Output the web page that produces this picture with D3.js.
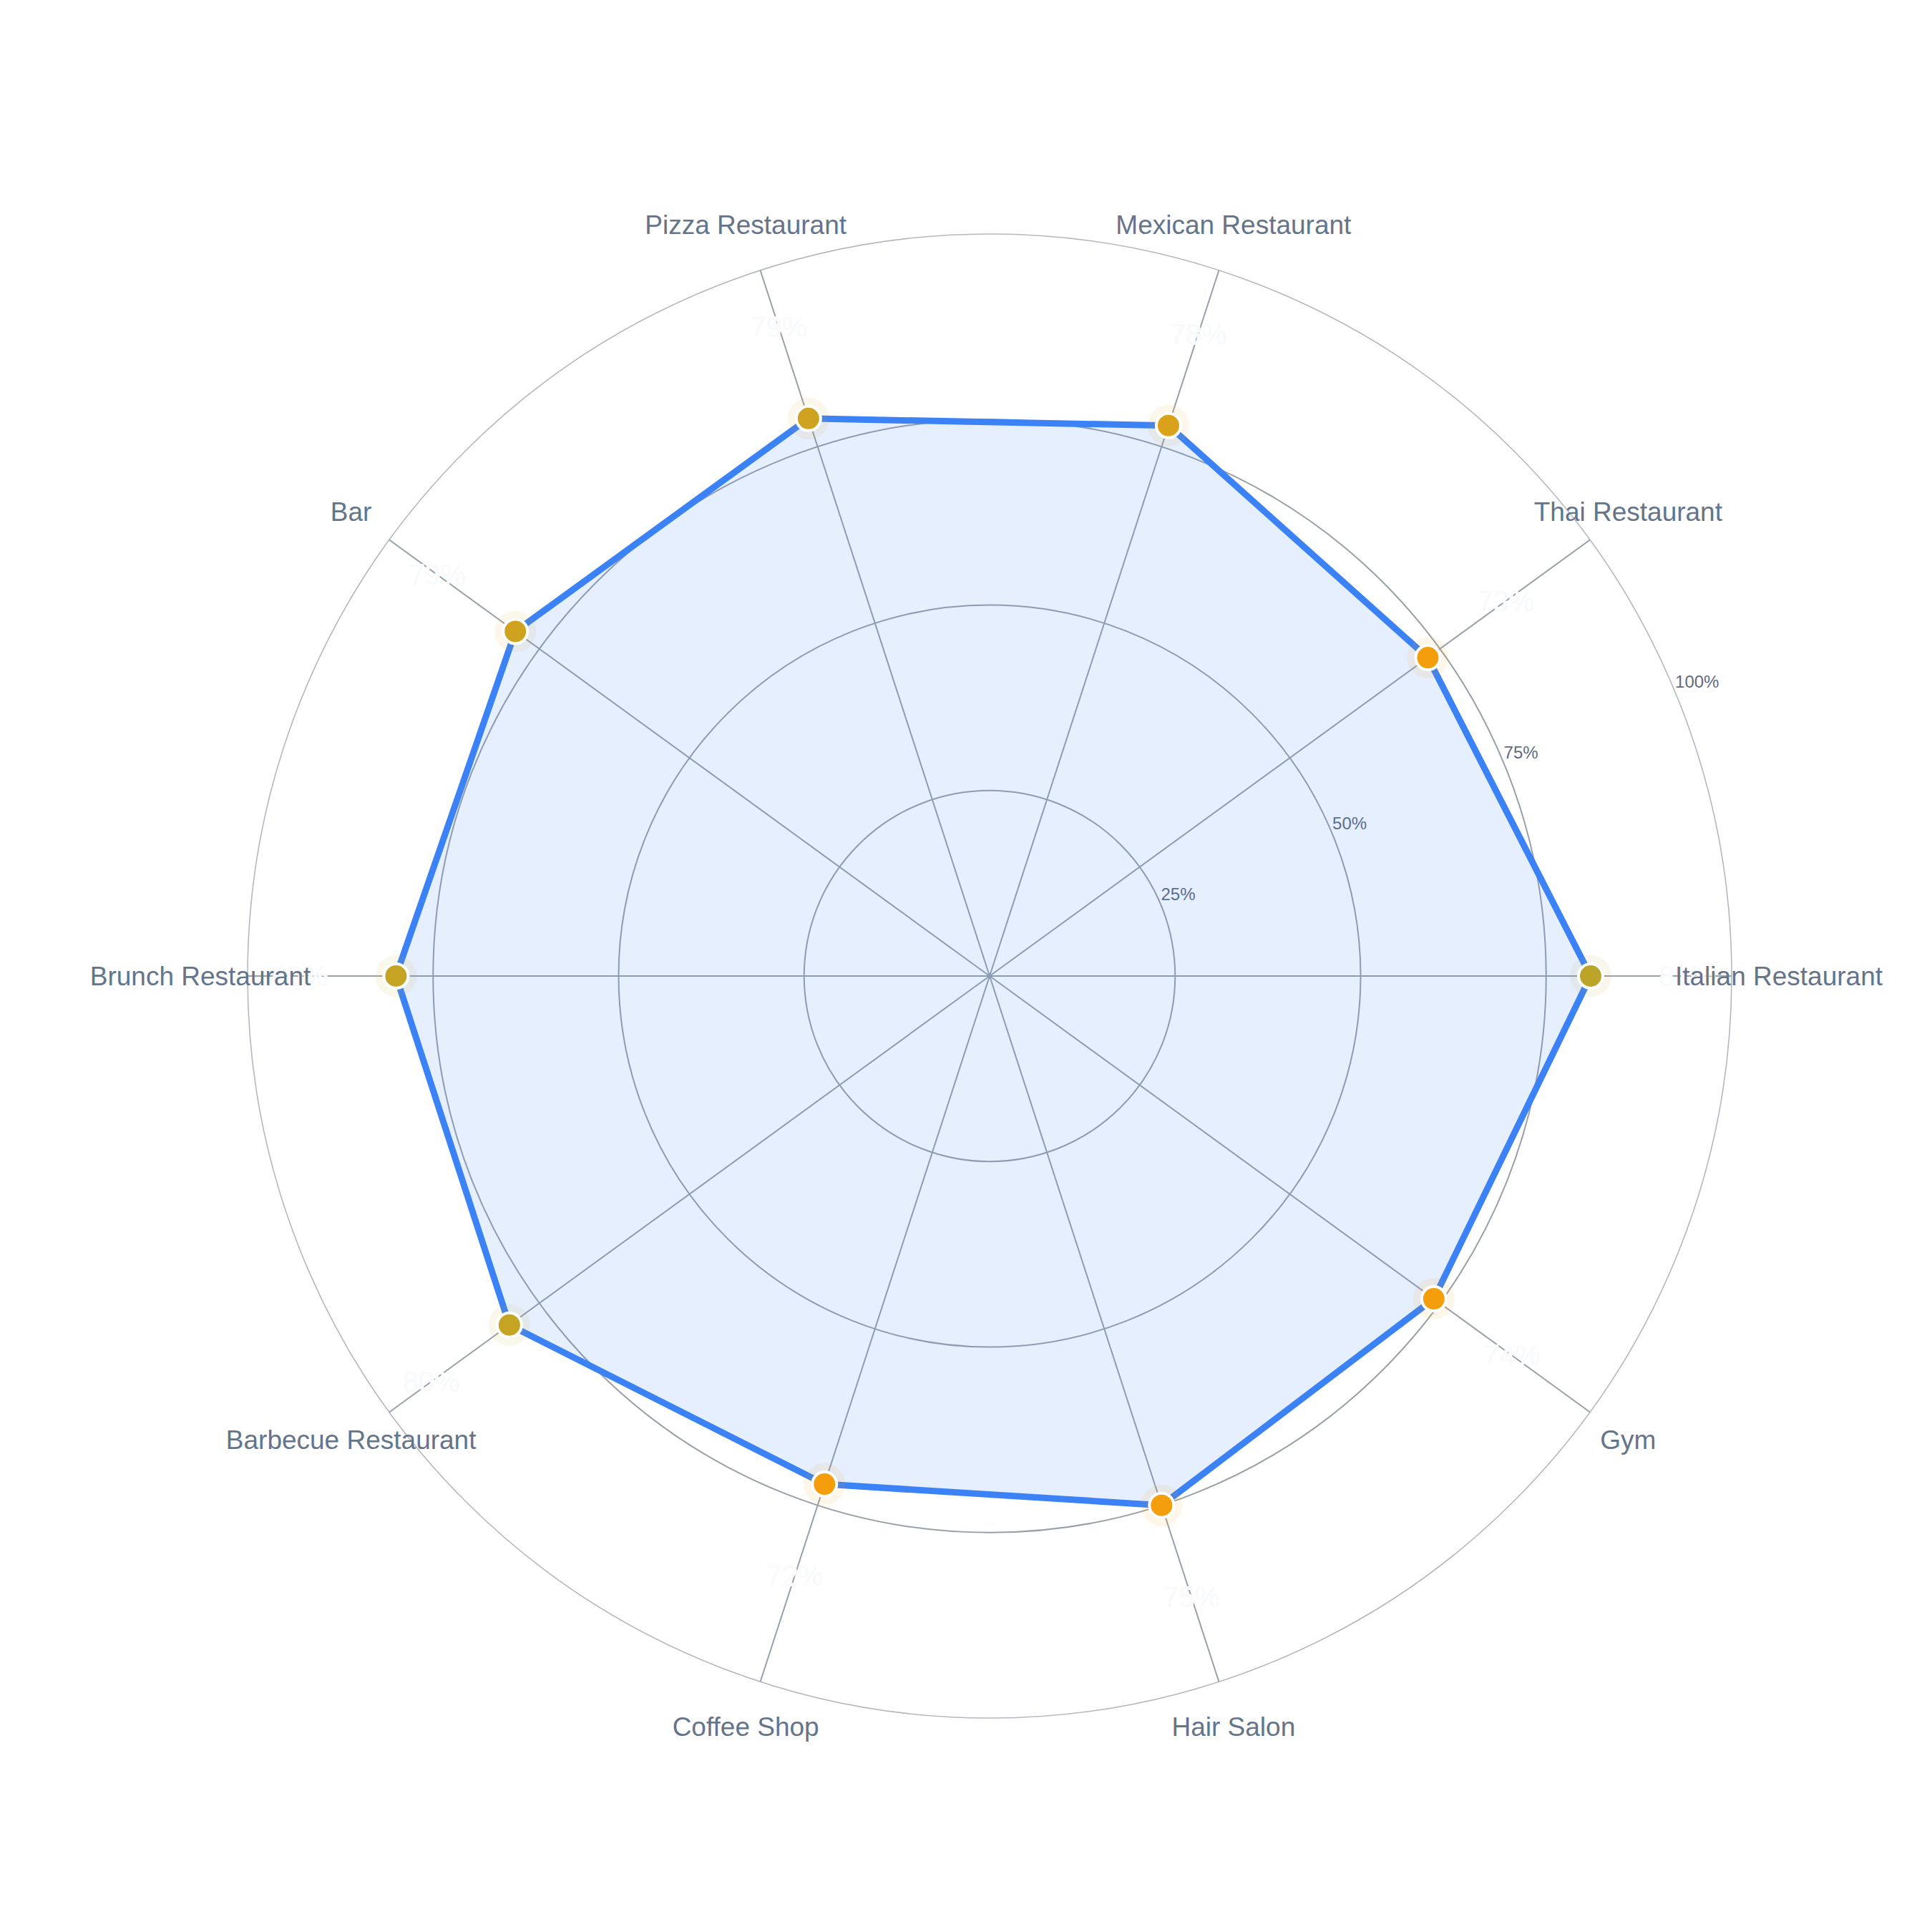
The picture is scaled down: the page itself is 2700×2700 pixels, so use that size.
<!DOCTYPE html>
<html>
<head>
<meta charset="utf-8">
<script src="https://cdn.jsdelivr.net/npm/d3@7"></script>
<style>
  html, body { margin: 0; padding: 0; background: #ffffff; }
  svg { display: block; }
</style>
</head>
<body>
<svg id="chart" width="2700" height="2700"></svg>
<script>
// ---- Data ----
const categories = ["Italian Restaurant", "Thai Restaurant", "Mexican Restaurant", "Pizza Restaurant", "Bar",
                    "Brunch Restaurant", "Barbecue Restaurant", "Coffee Shop", "Hair Salon", "Gym"];
const values = [81, 73, 78, 79, 79, 80, 80, 72, 75, 74];
const radialTicks = [25, 50, 75, 100];
const radialTickLabels = ["25%", "50%", "75%", "100%"];

// ---- Layout ----
const W = 2700, H = 2700;
const cx = 1383, cy = 1364, R = 1037;
const svg = d3.select("#chart");
const font = "'Liberation Sans', Arial, Helvetica, sans-serif";

const r = d3.scaleLinear().domain([0, 100]).range([0, R]);
// counter-clockwise, starting at 0 degrees (east)
const angle = d3.scaleLinear().domain([0, categories.length]).range([0, 2 * Math.PI]);
const px = (i, v) => cx + r(v) * Math.cos(angle(i));
const py = (i, v) => cy - r(v) * Math.sin(angle(i));

const color = d3.scaleLinear().domain([75, 78, 81])
  .range(["#f59e0b", "#d9a21a", "#bba529"]).clamp(true);

const g = svg.append("g");

// grid circles
radialTicks.forEach((t, k) => {
  g.append("circle")
    .attr("cx", cx).attr("cy", cy).attr("r", r(t))
    .attr("fill", "none")
    .attr("stroke", t === 100 ? "#b4b8be" : "#9aa0a8")
    .attr("stroke-width", t === 100 ? 1.6 : 2);
});

// spokes
categories.forEach((c, i) => {
  g.append("line")
    .attr("x1", cx).attr("y1", cy)
    .attr("x2", px(i, 100)).attr("y2", py(i, 100))
    .attr("stroke", "#9aa0a8").attr("stroke-width", 2);
});

// radial tick labels at 22.5 degrees
const tickAng = 22.5 * Math.PI / 180;
radialTicks.forEach((t, k) => {
  g.append("text")
    .attr("x", cx + r(t) * Math.cos(tickAng))
    .attr("y", cy - r(t) * Math.sin(tickAng) - 15)
    .attr("dominant-baseline", "central")
    .attr("text-anchor", "start")
    .attr("font-family", font).attr("font-size", 24)
    .attr("fill", "#5f6b80")
    .text(radialTickLabels[k]);
});

// area + line
const line = d3.line()
  .x((d, i) => px(i, d))
  .y((d, i) => py(i, d))
  .curve(d3.curveLinearClosed);

g.append("path")
  .attr("d", line(values))
  .attr("fill", "rgba(59,130,246,0.13)")
  .attr("stroke", "#3b82f6")
  .attr("stroke-width", 9)
  .attr("stroke-linejoin", "round");

// markers
const mk = g.append("g");
values.forEach((v, i) => {
  mk.append("circle")
    .attr("cx", px(i, v)).attr("cy", py(i, v)).attr("r", 29)
    .attr("fill", color(v)).attr("fill-opacity", 0.09);
  mk.append("circle")
    .attr("cx", px(i, v)).attr("cy", py(i, v)).attr("r", 17)
    .attr("fill", color(v))
    .attr("stroke", "#ffffff").attr("stroke-width", 4);
});

// value labels (very light with white halo)
values.forEach((v, i) => {
  g.append("text")
    .attr("x", px(i, v + 13)).attr("y", py(i, v + 13))
    .attr("text-anchor", "middle")
    .attr("dominant-baseline", "central")
    .attr("font-family", font).attr("font-size", 40)
    .attr("fill", "#f8fafc")
    .attr("stroke", "#ffffff").attr("stroke-width", 2)
    .attr("paint-order", "stroke")
    .text(v + "%");
});

// category labels (drawn on top)
categories.forEach((c, i) => {
  g.append("text")
    .attr("x", cx + (R + 66) * Math.cos(angle(i)))
    .attr("y", cy - (R + 66) * Math.sin(angle(i)))
    .attr("text-anchor", "middle")
    .attr("dominant-baseline", "central")
    .attr("font-family", font).attr("font-size", 37)
    .attr("fill", "#64748b")
    .text(c);
});
</script>
</body>
</html>
